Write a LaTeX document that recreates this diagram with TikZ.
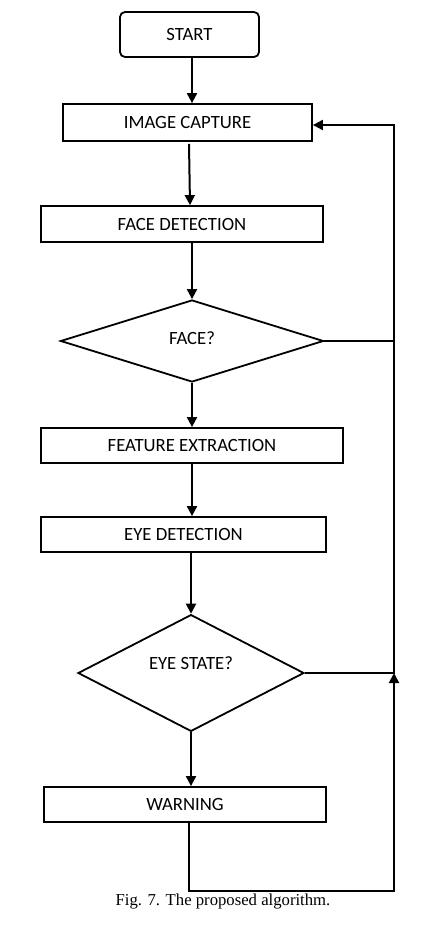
\documentclass[tikz,border=0pt]{standalone}
\usepackage{fontspec}
\setmainfont{Carlito}
\newfontfamily\capfont{Liberation Serif}
\usetikzlibrary{arrows.meta,shapes.geometric}
\begin{document}
\begin{tikzpicture}[x=1pt,y=-1pt,
  boxfont/.style={font=\fontsize{18.7}{20}\selectfont},
  stepbox/.style={draw,line width=1.8pt,inner sep=0pt,boxfont},
  startbox/.style={stepbox,rounded corners=5pt},
  decision/.style={draw,line width=1.8pt,diamond,inner sep=0pt,boxfont},
  conn/.style={line width=2pt},
  arr/.style={conn,-{Triangle[length=10pt,width=10pt]}}]
\useasboundingbox (0,0) rectangle (434,945);
\node[startbox,minimum width=139pt,minimum height=45pt] (start) at (189.5,34.5) {START};
\node[stepbox,minimum width=249pt,minimum height=37pt] (ic) at (187.5,122.5) {IMAGE CAPTURE};
\node[stepbox,minimum width=282pt,minimum height=36pt] (fd) at (182,224) {FACE DETECTION};
\node[decision,minimum width=263pt,minimum height=82pt] (face) at (192,341) {\raisebox{6pt}{FACE?}};
\node[stepbox,minimum width=302pt,minimum height=35pt] (fe) at (192,445.5) {FEATURE EXTRACTION};
\node[stepbox,minimum width=285pt,minimum height=35pt] (ed) at (183.5,534.5) {EYE DETECTION};
\node[decision,minimum width=226pt,minimum height=114pt] (es) at (191,673) {\raisebox{20pt}{EYE STATE?}};
\node[stepbox,minimum width=282pt,minimum height=35pt] (warn) at (185,804.5) {WARNING};
\node[font=\capfont\fontsize{16.7}{18}\selectfont] (cap) at (223,901) {Fig. 7. The proposed algorithm.};
\coordinate (jtop) at (394,125);
\coordinate (jf) at (394,341);
\coordinate (jn) at (394,673);
\coordinate (rb) at (394,891);
\draw[arr] ([xshift=2.5pt]start.south) -- ([xshift=4.5pt]ic.north);
\draw[arr] ([xshift=1.5pt,yshift=-2pt]ic.south) -- ([xshift=8pt]fd.north);
\draw[arr] ([xshift=10pt]fd.south) -- (face.north);
\draw[arr] (face.south) -- (face.south |- fe.north);
\draw[arr] (fe.south) -- (fe.south |- ed.north);
\draw[arr] (es.north |- ed.south) -- (es.north);
\draw[arr] (es.south) -- (es.south |- warn.north);
\draw[conn] (face.east) -- (jf);
\draw[arr] (es.east) -- (jn) -- (jtop) -- (jtop -| ic.east);
\draw[arr] ([xshift=4pt]warn.south) |- (rb) -- (jn);
\end{tikzpicture}
\end{document}
